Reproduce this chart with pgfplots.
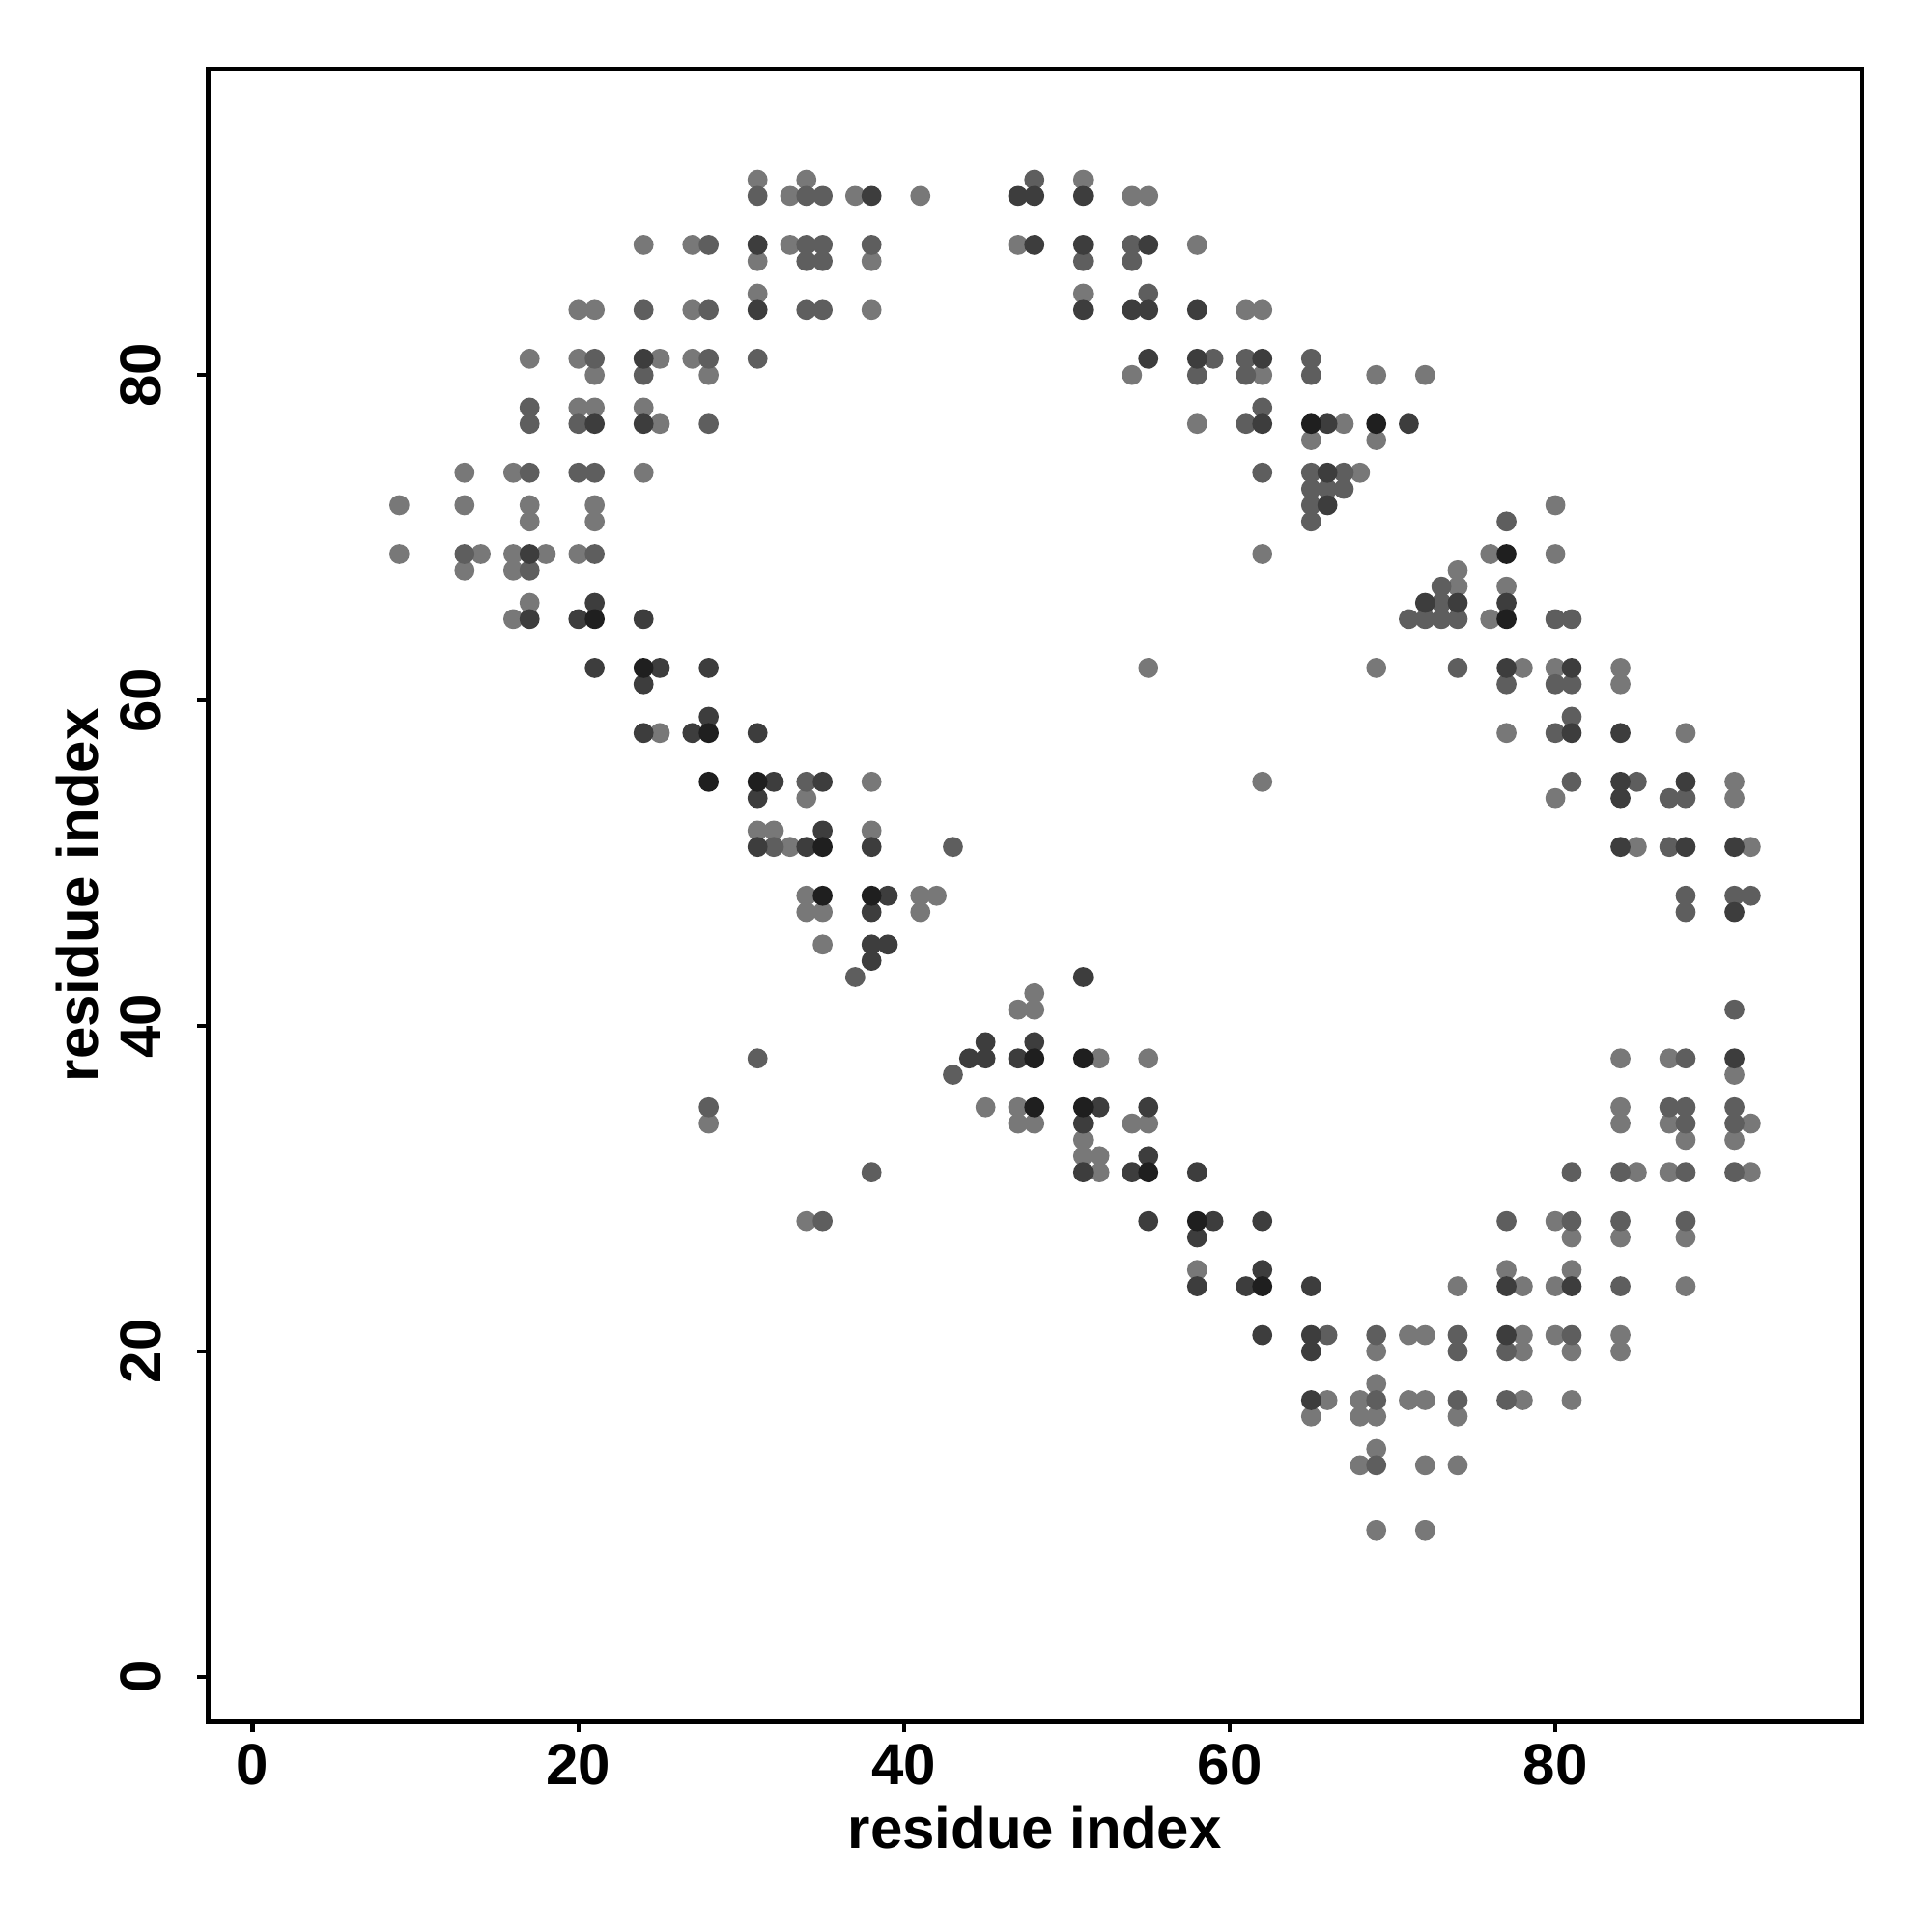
\documentclass[border=0pt]{standalone}
\usepackage{fontspec}
\setmainfont{Liberation Sans}
\usepackage{pgfplots}
\pgfplotsset{compat=1.18}
\definecolor{cL}{gray}{0.47}
\definecolor{cM}{gray}{0.37}
\definecolor{cD}{gray}{0.24}
\definecolor{cK}{gray}{0.12}
\begin{document}
\begin{tikzpicture}
\begin{axis}[
  scale only axis, width=342.3pt, height=342.1pt,
  xmin=-2.74, xmax=98.8, ymin=-2.74, ymax=98.8,
  axis line style={line width=1pt},
  xtick={0,20,40,60,80}, ytick={0,20,40,60,80},
  xtick pos=bottom, ytick pos=left,
  tick align=outside, major tick length=2.2pt,
  tick style={line width=0.9pt, black},
  minor tick num=0,
  /pgf/number format/assume math mode=true,
  ticklabel style={font=\fontsize{12}{14}\selectfont\bfseries},
  xticklabel style={anchor=center, yshift=-6.8pt},
  yticklabel style={anchor=center, xshift=-11.8pt, rotate=90},
  clip=false,
]
\addplot[only marks, mark=*, mark size=1.87pt, color=cL] coordinates {
(24,88)(27,88)(20,84)(21,84)(27,84)(17,81)(20,81)(25,81)(27,81)(21,80)(28,80)(20,78)(21,78)(24,78)(25,77)(13,74)(16,74)(24,74)(9,72)(13,72)(17,72)(21,72)(17,71)(21,71)(9,69)(14,69)(16,69)(18,69)(20,69)(13,68)(16,68)(17,66)(16,65)
(31,92)(34,92)(33,91)(37,91)(41,91)(33,88)(47,88)(31,87)(38,87)(31,85)(38,84)
(51,92)(54,91)(55,91)(58,88)(51,85)(61,84)(62,84)(54,80)(62,80)(69,80)(72,80)(58,77)(67,77)(65,76)(69,76)(68,74)(62,69)
(80,72)(76,69)(80,69)(74,68)(74,67)(77,67)(76,65)
(25,58)
(38,55)(34,54)(31,52)(32,52)(38,52)(33,51)(34,48)(41,48)(42,48)(34,47)(35,47)(41,47)(35,45)(48,42)(47,41)(48,41)
(55,62)(69,62)(62,55)(52,38)(55,38)
(78,62)(80,62)(84,62)(84,61)(77,58)(88,58)(91,55)(80,54)(91,54)(85,51)(92,51)(84,38)(87,38)(91,37)
(28,34)
(45,35)(47,35)(47,34)(48,34)(34,28)
(54,34)(55,34)(51,33)(51,32)(52,32)(52,31)(58,25)(71,21)(72,21)(69,20)(69,18)(66,17)(68,17)(71,17)(72,17)(65,16)(68,16)(69,16)(69,14)(68,13)(72,13)(69,9)(72,9)
(84,35)(84,34)(87,34)(92,34)(88,33)(91,33)(85,31)(87,31)(92,31)(80,28)(81,27)(84,27)(88,27)(77,25)(81,25)(74,24)(78,24)(80,24)(88,24)(78,21)(80,21)(84,21)(78,20)(81,20)(84,20)(78,17)(81,17)(74,16)(74,13)
};
\addplot[only marks, mark=*, mark size=1.87pt, color=cM] coordinates {
(28,88)(24,84)(28,84)(21,81)(28,81)(24,80)(17,78)(17,77)(20,77)(28,77)(17,74)(20,74)(21,74)(13,69)(21,69)(17,68)
(48,92)(31,91)(34,91)(35,91)(34,88)(35,88)(38,88)(34,87)(35,87)(34,84)(35,84)(31,81)
(51,87)(54,87)(54,88)(55,85)(59,81)(61,81)(65,81)(58,80)(61,80)(65,80)(62,78)(61,77)(62,74)(65,74)(67,74)(65,73)(66,73)(67,73)(65,72)(65,71)(71,65)(72,65)
(77,71)(73,67)(73,66)(73,65)(74,65)(80,65)(81,65)
(34,55)(32,51)(43,51)(37,43)(31,38)(43,37)
(74,62)(77,61)(80,61)(81,61)(81,59)(80,58)(81,55)(85,55)(87,54)(88,54)(87,51)(88,48)(91,48)(92,48)(88,47)(91,41)(88,38)
(28,35)
(38,31)(35,28)
(66,21)(69,21)(69,17)(69,13)
(87,35)(88,35)(91,35)(88,34)(91,34)(81,31)(84,31)(88,31)(91,31)(77,28)(81,28)(84,28)(88,28)(84,24)(74,21)(81,21)(74,20)(77,20)(74,17)(77,17)
};
\addplot[only marks, mark=*, mark size=1.87pt, color=cD] coordinates {
(24,81)(21,77)(24,77)(17,69)(21,66)(17,65)(20,65)(24,65)
(38,91)(47,91)(48,91)(31,88)(48,88)(31,84)
(51,91)(51,88)(55,88)(51,84)(54,84)(55,84)(58,84)(55,81)(58,81)(62,81)(62,77)(66,77)(71,77)(66,74)(66,72)(72,66)
(74,66)(77,66)
(21,62)(25,62)(28,62)(24,61)(28,59)(24,58)(27,58)
(31,58)(32,55)(35,55)(31,54)(35,52)(31,51)(34,51)(38,51)(39,48)(38,47)(38,45)(39,45)(38,44)(51,43)(45,39)(48,39)(44,38)(45,38)(47,38)
(77,62)(81,62)(81,58)(84,58)(84,55)(88,55)(84,54)(84,51)(88,51)(91,51)(91,47)(91,38)
(52,35)(55,35)(51,34)(55,32)(51,31)(54,31)(58,31)(55,28)(59,28)(62,28)(58,27)(62,25)(58,24)(61,24)(65,24)(62,21)(65,21)(65,20)(65,17)
(77,24)(81,24)(77,21)
};
\addplot[only marks, mark=*, mark size=1.87pt, color=cK] coordinates {
(21,65)(65,77)(69,77)(77,69)(77,65)(24,62)(28,58)(28,55)(31,55)(35,51)(35,48)(38,48)(48,38)(51,38)(48,35)(51,35)(55,31)(58,28)(62,24)
};
\node[font=\fontsize{12}{14}\selectfont\bfseries] at ([yshift=-22pt]rel axis cs:0.5,0) {residue index};
\node[font=\fontsize{12}{14}\selectfont\bfseries, rotate=90] at ([xshift=-27pt]rel axis cs:0,0.5) {residue index};
\path ([shift={(-43.1pt,-43.6pt)}]rel axis cs:0,0) rectangle ([shift={(14.6pt,14.3pt)}]rel axis cs:1,1);
\end{axis}
\end{tikzpicture}
\end{document}
